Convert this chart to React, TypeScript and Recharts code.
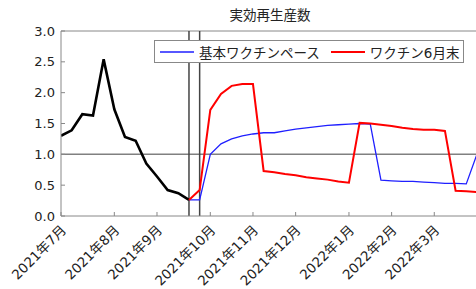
import React from "react";
import { LineChart, Line, XAxis, YAxis, ReferenceLine } from "recharts";

const FONT = "'DejaVu Sans', 'Noto Sans CJK JP', sans-serif";

// weekly index, starting first week of 2021年7月
const weeks = Array.from({ length: 40 }, (_, i) => i);

const monthTicks = [0, 5, 9, 14, 18, 22, 27, 31, 35];
const monthLabels = [
  "2021年7月",
  "2021年8月",
  "2021年9月",
  "2021年10月",
  "2021年11月",
  "2021年12月",
  "2022年1月",
  "2022年2月",
  "2022年3月",
];

// observed Rt (weeks 0..12)
const actual = [1.3, 1.39, 1.65, 1.63, 2.54, 1.73, 1.28, 1.22, 0.85, 0.64, 0.42, 0.37, 0.26];

// scenarios start at week 12
const scenarioStart = 12;
const basePace = [
  0.26, 0.26, 1.0, 1.17, 1.25, 1.3, 1.33, 1.35, 1.35, 1.38, 1.41, 1.43, 1.45, 1.47,
  1.48, 1.49, 1.5, 1.49, 0.58, 0.57, 0.56, 0.56, 0.55, 0.54, 0.53, 0.53, 0.52, 1.0,
];
const juneEnd = [
  0.26, 0.42, 1.72, 1.98, 2.11, 2.14, 2.14, 0.73, 0.71, 0.68, 0.66, 0.63, 0.61, 0.59,
  0.56, 0.54, 1.51, 1.5, 1.48, 1.46, 1.43, 1.41, 1.4, 1.4, 1.38, 0.41, 0.4, 0.39,
];

const markers = [12, 13];
const yTicks = [0, 0.5, 1, 1.5, 2, 2.5, 3];

const series = [
  { key: "base", name: "基本ワクチンペース", color: "#1f1fff", width: 1.3 },
  { key: "june", name: "ワクチン6月末", color: "#ff0000", width: 2 },
];

const data = weeks.map((w, i) => ({
  w,
  actual: i < actual.length ? actual[i] : null,
  base: i >= scenarioStart ? basePace[i - scenarioStart] : null,
  june: i >= scenarioStart ? juneEnd[i - scenarioStart] : null,
}));

const MonthTick = (props: any) => {
  const { x, payload } = props;
  const idx = monthTicks.indexOf(payload.value);
  return (
    <g transform={`translate(${x + 6}, 231)`}>
      <text
        x={0}
        y={0}
        transform="rotate(-45)"
        textAnchor="end"
        fontSize={13.5}
        fill="#222"
        fontFamily={FONT}
      >
        {monthLabels[idx]}
      </text>
    </g>
  );
};

const LegendBox = () => (
  <div
    style={{
      position: "absolute",
      top: 40,
      left: 154,
      zIndex: 2,
      display: "flex",
      alignItems: "center",
      border: "1px solid #888",
      background: "#fff",
      height: 21,
      padding: "0 4px 0 5px",
      fontFamily: FONT,
      fontSize: 13.5,
      color: "#222",
      whiteSpace: "nowrap",
    }}
  >
    {series.map((s, i) => (
      <span key={s.key} style={{ display: "flex", alignItems: "center", marginLeft: i ? 11 : 0 }}>
        <svg width={34} height={4} style={{ marginRight: 5 }}>
          <line x1={0} y1={2} x2={34} y2={2} stroke={s.color} strokeWidth={s.width} />
        </svg>
        {s.name}
      </span>
    ))}
  </div>
);

export default function App() {
  return (
    <div
      style={{
        position: "absolute",
        left: 0,
        top: 0,
        width: 476,
        height: 289,
        overflow: "hidden",
        background: "#fff",
      }}
    >
      <div
        style={{
          position: "absolute",
          left: 0,
          width: 540,
          top: 4,
          textAlign: "center",
          fontFamily: FONT,
          fontSize: 13.5,
          color: "#222",
        }}
      >
        実効再生産数
      </div>
      <LegendBox />
      <LineChart width={490} height={289} data={data} margin={{ top: 31, right: 12, left: 0, bottom: 0 }}>
        <XAxis
          dataKey="w"
          type="number"
          domain={[0, 39.1]}
          ticks={monthTicks}
          interval={0}
          allowDataOverflow
          height={73}
          stroke="#888"
          tickSize={-4}
          tick={<MonthTick />}
        />
        <XAxis
          xAxisId="top"
          orientation="top"
          dataKey="w"
          type="number"
          domain={[0, 39.1]}
          ticks={monthTicks}
          interval={0}
          height={0}
          stroke="#888"
          tickSize={-4}
          tickFormatter={() => ""}
        />
        <YAxis
          domain={[0, 3]}
          ticks={yTicks}
          width={61}
          stroke="#888"
          tickSize={-4}
          tickMargin={10}
          tickFormatter={(v: number) => v.toFixed(1)}
          tick={{ fill: "#222", fontSize: 13, fontFamily: FONT }}
        />
        <YAxis
          yAxisId="right"
          orientation="right"
          domain={[0, 3]}
          ticks={yTicks}
          width={0}
          stroke="#888"
          tickSize={-4}
          tickFormatter={() => ""}
        />
        <ReferenceLine y={3} stroke="#888" strokeWidth={1} />
        <ReferenceLine y={1} stroke="#808080" strokeWidth={1.5} />
        {markers.map((m) => (
          <ReferenceLine key={m} x={m} stroke="#444" strokeWidth={1.5} />
        ))}
        <Line
          dataKey="actual"
          stroke="#000"
          strokeWidth={2.6}
          dot={false}
          isAnimationActive={false}
          legendType="none"
        />
        {series.map((s) => (
          <Line
            key={s.key}
            dataKey={s.key}
            name={s.name}
            stroke={s.color}
            strokeWidth={s.width}
            dot={false}
            isAnimationActive={false}
          />
        ))}
      </LineChart>
    </div>
  );
}
